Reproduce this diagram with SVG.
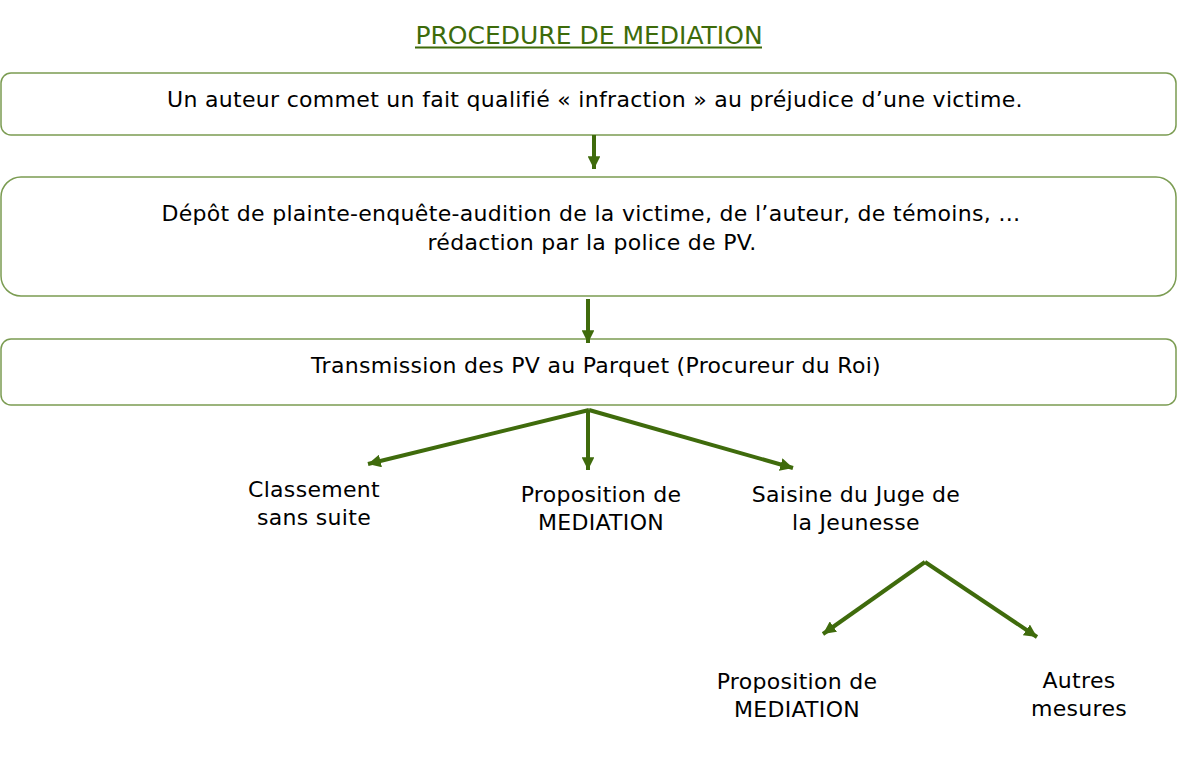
<svg xmlns="http://www.w3.org/2000/svg" width="1184" height="757" viewBox="0 0 1184 757">
<defs>
<style>
.box{fill:#ffffff;stroke:#7b9c52;stroke-width:1.5}
.t{font-family:"DejaVu Sans",sans-serif;font-size:22px;letter-spacing:0.3px;fill:#000;text-anchor:middle}
.title{font-family:"DejaVu Sans",sans-serif;font-size:25px;fill:#3d6b0a;text-anchor:middle}
.c{stroke:#3f6b0c;stroke-width:4;fill:none}
</style>
<marker id="ah" viewBox="0 0 10 10" refX="10" refY="5" markerWidth="3.2" markerHeight="3.2" orient="auto" markerUnits="strokeWidth">
<path d="M0,0 L10,5 L0,10 Z" fill="#3f6b0c"/>
</marker>
</defs>
<rect width="1184" height="757" fill="#ffffff"/>
<g id="title">
<text class="title" x="589" y="44">PROCEDURE DE MEDIATION</text>
<line x1="415" y1="47.5" x2="762" y2="47.5" stroke="#3d6b0a" stroke-width="2"/>
</g>
<g id="n1">
<rect class="box" x="1" y="73" width="1175" height="62" rx="10"/>
<text class="t" x="595" y="107">Un auteur commet un fait qualifié « infraction » au préjudice d’une victime.</text>
</g>
<g id="n2">
<rect class="box" x="1" y="177" width="1175" height="119" rx="20"/>
<text class="t" x="591" y="221">Dépôt de plainte-enquête-audition de la victime, de l’auteur, de témoins, …</text>
<text class="t" x="592" y="250">rédaction par la police de PV.</text>
</g>
<g id="n3">
<rect class="box" x="1" y="339" width="1175" height="66" rx="10"/>
<text class="t" x="596" y="373">Transmission des PV au Parquet (Procureur du Roi)</text>
</g>
<g id="n4">
<text class="t" x="314" y="497">Classement</text>
<text class="t" x="314" y="525">sans suite</text>
</g>
<g id="n5">
<text class="t" x="601" y="502">Proposition de</text>
<text class="t" x="601" y="530">MEDIATION</text>
</g>
<g id="n6">
<text class="t" x="856" y="502">Saisine du Juge de</text>
<text class="t" x="856" y="530">la Jeunesse</text>
</g>
<g id="n7">
<text class="t" x="797" y="689">Proposition de</text>
<text class="t" x="797" y="717">MEDIATION</text>
</g>
<g id="n8">
<text class="t" x="1079" y="688">Autres</text>
<text class="t" x="1079" y="716">mesures</text>
</g>
<g id="connectors">
<line class="c" x1="594" y1="135" x2="594" y2="169" marker-end="url(#ah)"/>
<line class="c" x1="588" y1="299" x2="588" y2="343" marker-end="url(#ah)"/>
<line class="c" x1="589" y1="410" x2="368" y2="464" marker-end="url(#ah)"/>
<line class="c" x1="588" y1="410" x2="588" y2="470" marker-end="url(#ah)"/>
<line class="c" x1="589" y1="410" x2="793" y2="468" marker-end="url(#ah)"/>
<line class="c" x1="925" y1="562" x2="823" y2="634" marker-end="url(#ah)"/>
<line class="c" x1="925" y1="562" x2="1037" y2="637" marker-end="url(#ah)"/>
</g>
</svg>
